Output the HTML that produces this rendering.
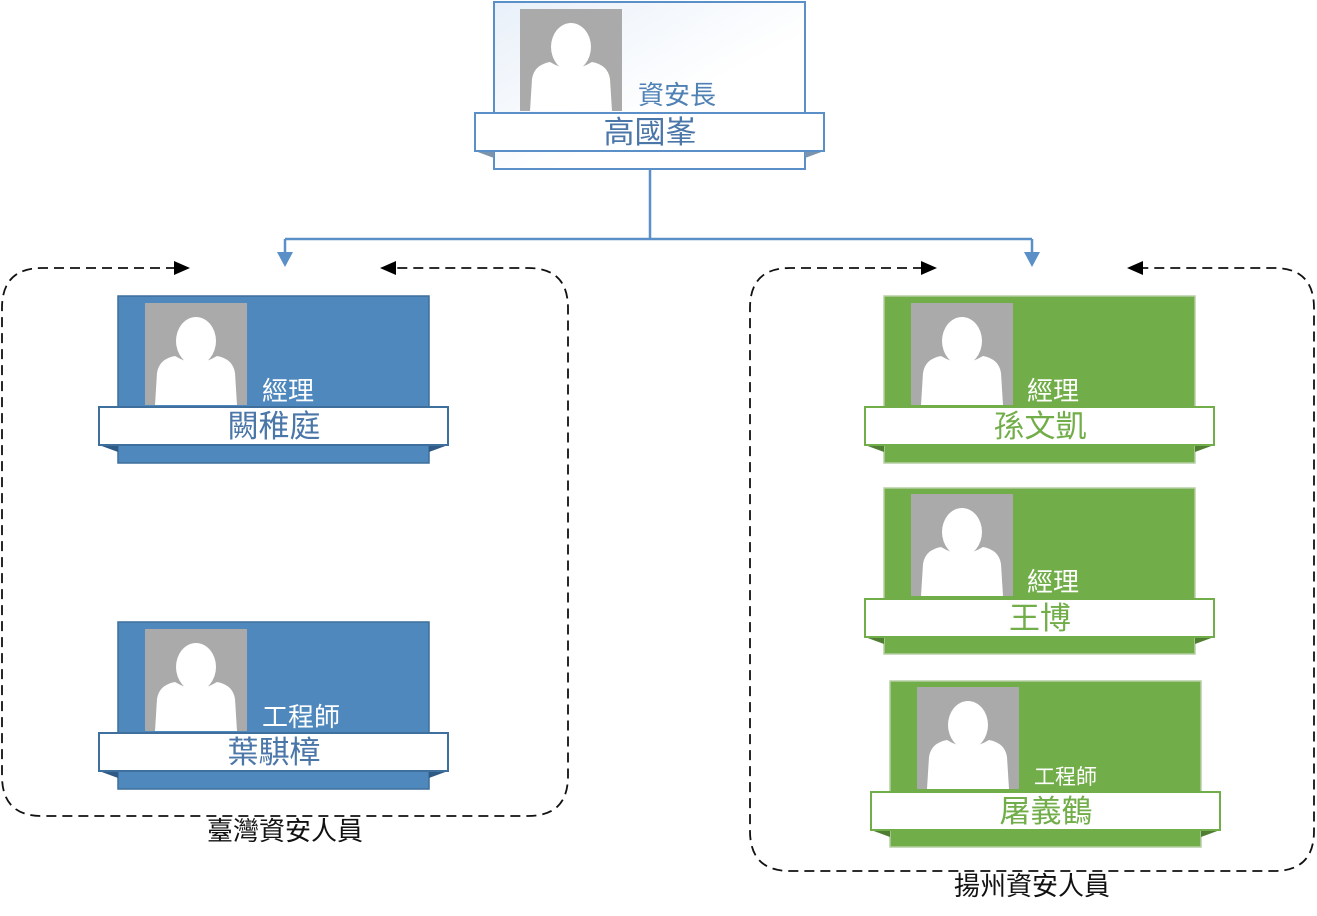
<!DOCTYPE html>
<html><head><meta charset="utf-8"><style>
html,body{margin:0;padding:0;background:#fff;width:1317px;height:916px;overflow:hidden}
text{font-family:"Liberation Sans","Noto Sans CJK TC",sans-serif}
</style></head><body>
<svg width="1317" height="916" viewBox="0 0 1317 916" xmlns="http://www.w3.org/2000/svg">
<defs>
<linearGradient id="tg" x1="0" y1="0" x2="1" y2="1"><stop offset="0" stop-color="#e9f0f9"/><stop offset="0.6" stop-color="#ffffff"/></linearGradient>
<g id="person">
<rect x="0" y="0" width="102" height="102" fill="#aaaaaa"/>
<ellipse cx="51" cy="38" rx="20" ry="24" fill="#fff"/>
<path d="M10 102 L12 70 Q14 56 30 53 Q51 66 72 53 Q88 56 90 70 L92 102 Z" fill="#fff"/>
</g>
</defs>

<g stroke="#5b8fc7" stroke-width="2.5" fill="none">
<line x1="650" y1="169" x2="650" y2="239"/>
<line x1="285" y1="239" x2="1032" y2="239"/>
<line x1="285" y1="239" x2="285" y2="255"/>
<line x1="1032" y1="239" x2="1032" y2="255"/>
</g>
<polygon points="277,252 293,252 285,267" fill="#5b8fc7"/>
<polygon points="1024,252 1040,252 1032,267" fill="#5b8fc7"/>

<g stroke="#111" stroke-width="1.8" fill="none" stroke-dasharray="10,6">
<path d="M176 268 L42 268 Q2 268 2 308 L2 776 Q2 816 42 816 L528 816 Q568 816 568 776 L568 308 Q568 268 528 268 L394 268"/>
<path d="M923 268 L790 268 Q750 268 750 308 L750 831 Q750 871 790 871 L1274 871 Q1314 871 1314 831 L1314 308 Q1314 268 1274 268 L1141 268"/>
</g>
<polygon points="174,261 190,268 174,275" fill="#000"/>
<polygon points="396,261 380,268 396,275" fill="#000"/>
<polygon points="921,261 937,268 921,275" fill="#000"/>
<polygon points="1143,261 1127,268 1143,275" fill="#000"/>

<text x="285" y="840" font-size="26" text-anchor="middle" fill="#111">臺灣資安人員</text>
<text x="1032" y="895" font-size="26" text-anchor="middle" fill="#111">揚州資安人員</text>

<g>
<rect x="494" y="2" width="311" height="167" fill="url(#tg)" stroke="#5b8fc7" stroke-width="2"/>
<use href="#person" x="520" y="9"/>
<polygon points="475,151 494,151 494,158" fill="#7a94ad"/>
<polygon points="824,151 805,151 805,158" fill="#7a94ad"/>
<rect x="475" y="113" width="349" height="38" fill="#fff" stroke="#5b8fc7" stroke-width="2"/>
<text x="638" y="104" font-size="26" fill="#4f81b5">資安長</text>
<text x="650" y="143" font-size="31" text-anchor="middle" fill="#4a76a8">高國峯</text>
</g>

<g>
<rect x="118" y="296" width="311" height="167" fill="#4f88bd" stroke="#3f6f9c" stroke-width="1.5"/>
<use href="#person" x="145" y="303"/>
<polygon points="99,445 118,445 118,452" fill="#2f5a85"/>
<polygon points="448,445 429,445 429,452" fill="#2f5a85"/>
<rect x="99" y="407" width="349" height="38" fill="#fff" stroke="#3f6f9c" stroke-width="2"/>
<text x="262" y="400" font-size="26" fill="#fff">經理</text>
<text x="274" y="437" font-size="31" text-anchor="middle" fill="#4a76a8">闕稚庭</text>
</g>
<g>
<rect x="118" y="622" width="311" height="167" fill="#4f88bd" stroke="#3f6f9c" stroke-width="1.5"/>
<use href="#person" x="145" y="629"/>
<polygon points="99,771 118,771 118,778" fill="#2f5a85"/>
<polygon points="448,771 429,771 429,778" fill="#2f5a85"/>
<rect x="99" y="733" width="349" height="38" fill="#fff" stroke="#3f6f9c" stroke-width="2"/>
<text x="262" y="726" font-size="26" fill="#fff">工程師</text>
<text x="274" y="763" font-size="31" text-anchor="middle" fill="#4a76a8">葉騏樟</text>
</g>

<g>
<rect x="884" y="296" width="311" height="167" fill="#71ad48" stroke="#b5cfa3" stroke-width="1.5"/>
<use href="#person" x="911" y="303"/>
<polygon points="865,445 884,445 884,452" fill="#4f7d32"/>
<polygon points="1214,445 1195,445 1195,452" fill="#4f7d32"/>
<rect x="865" y="407" width="349" height="38" fill="#fff" stroke="#71ad48" stroke-width="2"/>
<text x="1027" y="400" font-size="26" fill="#fff">經理</text>
<text x="1040" y="437" font-size="31" text-anchor="middle" fill="#71ad48">孫文凱</text>
</g>
<g>
<rect x="884" y="488" width="311" height="166" fill="#71ad48" stroke="#b5cfa3" stroke-width="1.5"/>
<use href="#person" x="911" y="494"/>
<polygon points="865,637 884,637 884,644" fill="#4f7d32"/>
<polygon points="1214,637 1195,637 1195,644" fill="#4f7d32"/>
<rect x="865" y="599" width="349" height="38" fill="#fff" stroke="#71ad48" stroke-width="2"/>
<text x="1027" y="591" font-size="26" fill="#fff">經理</text>
<text x="1040" y="629" font-size="31" text-anchor="middle" fill="#71ad48">王博</text>
</g>
<g>
<rect x="890" y="681" width="311" height="166" fill="#71ad48" stroke="#b5cfa3" stroke-width="1.5"/>
<use href="#person" x="917" y="687"/>
<polygon points="871,830 890,830 890,837" fill="#4f7d32"/>
<polygon points="1220,830 1201,830 1201,837" fill="#4f7d32"/>
<rect x="871" y="792" width="349" height="38" fill="#fff" stroke="#71ad48" stroke-width="2"/>
<text x="1034" y="784" font-size="21" fill="#fff">工程師</text>
<text x="1046" y="822" font-size="31" text-anchor="middle" fill="#71ad48">屠義鶴</text>
</g>
</svg>
</body></html>
